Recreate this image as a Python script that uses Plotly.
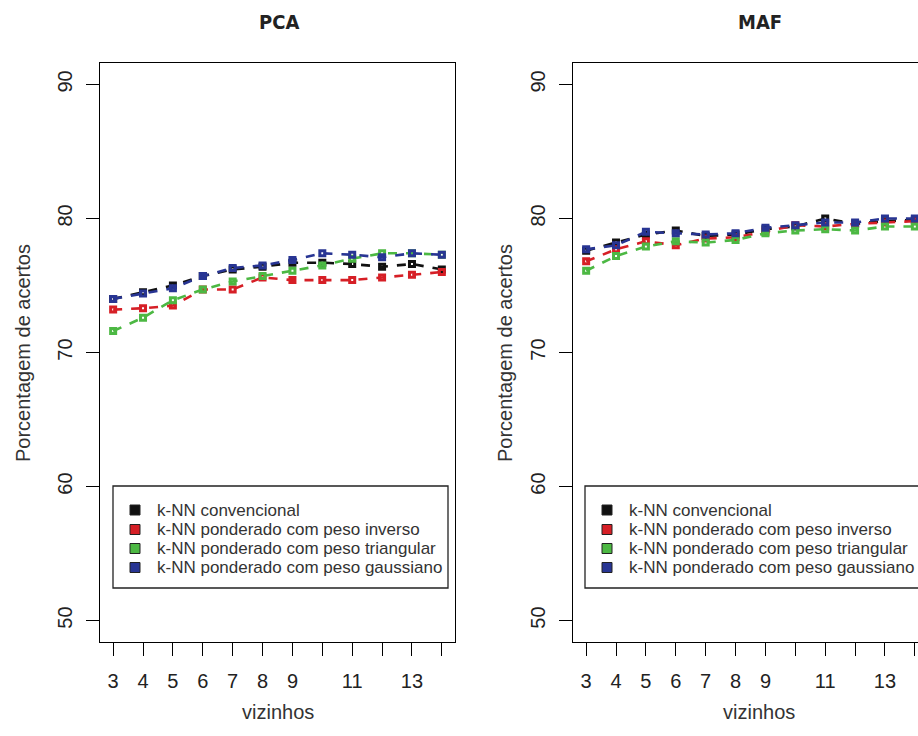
import plotly.graph_objects as go

k = list(range(3, 15))
xtick_vals = list(range(3, 15))
xtick_text = ["3", "4", "5", "6", "7", "8", "9", "", "11", "", "13", ""]
ytick_vals = [50, 60, 70, 80, 90]

series_names = [
    "k-NN convencional",
    "k-NN ponderado com peso inverso",
    "k-NN ponderado com peso triangular",
    "k-NN ponderado com peso gaussiano",
]
series_colors = ["#111111", "#d61f26", "#4cb843", "#283593"]

pca_conv = [74.0, 74.5, 75.0, 75.7, 76.2, 76.4, 76.7, 76.7, 76.6, 76.4, 76.6, 76.2]
pca_inv = [73.2, 73.3, 73.5, 74.7, 74.7, 75.6, 75.4, 75.4, 75.4, 75.6, 75.8, 76.0]
pca_tri = [71.6, 72.6, 73.9, 74.7, 75.3, 75.7, 76.1, 76.5, 77.0, 77.4, 77.4, 77.3]
pca_gau = [74.0, 74.4, 74.8, 75.7, 76.3, 76.5, 76.9, 77.4, 77.3, 77.1, 77.4, 77.3]

maf_conv = [77.6, 78.2, 78.8, 79.1, 78.7, 78.8, 79.2, 79.4, 80.0, 79.6, 79.8, 79.9]
maf_inv = [76.8, 77.7, 78.3, 78.0, 78.5, 78.6, 79.0, 79.5, 79.4, 79.6, 79.7, 79.8]
maf_tri = [76.1, 77.2, 77.9, 78.3, 78.2, 78.4, 78.9, 79.1, 79.2, 79.1, 79.4, 79.4]
maf_gau = [77.7, 78.0, 79.0, 78.9, 78.8, 78.9, 79.3, 79.5, 79.7, 79.7, 80.0, 80.0]

pca = [pca_conv, pca_inv, pca_tri, pca_gau]
maf = [maf_conv, maf_inv, maf_tri, maf_gau]

W, H = 918, 736
FONT = "Liberation Sans, Arial, sans-serif"

fig = go.Figure()

for data, xa, ya in [(pca, "x", "y"), (maf, "x2", "y2")]:
    for name, vals, col in zip(series_names, data, series_colors):
        fig.add_trace(go.Scatter(
            x=k, y=vals, xaxis=xa, yaxis=ya, mode="lines+markers", name=name,
            line=dict(color=col, width=2.6, dash="dash"),
            marker=dict(symbol="square-open", size=5, color=col, line=dict(width=3, color=col)),
            showlegend=False,
        ))


def px_x(p):
    return p / W


def px_y(p):
    return 1 - p / H


axis_common = dict(
    showline=True, linecolor="black", linewidth=1.3,
    ticks="outside", ticklen=13, tickwidth=1.3, tickcolor="black",
    showgrid=False, zeroline=False,
    tickfont=dict(family=FONT, size=20, color="#222222"),
)

xdomL = [px_x(100), px_x(455)]
xdomR = [px_x(573), 1.0]
ydom = [px_y(642), px_y(63)]
unit = 355 / 11.88

fig.update_layout(
    width=W, height=H,
    margin=dict(l=0, r=0, t=0, b=0),
    paper_bgcolor="white", plot_bgcolor="white",
    showlegend=False,
    xaxis=dict(domain=xdomL, range=[2.56, 14.44], tickvals=xtick_vals, ticktext=xtick_text,
               mirror=True, anchor="y", ticklabelstandoff=8, **axis_common),
    yaxis=dict(domain=ydom, range=[48.4, 91.6], tickvals=ytick_vals, tickangle=-90,
               mirror=True, anchor="x", ticklabelstandoff=6, **axis_common),
    xaxis2=dict(domain=xdomR, range=[2.56, 2.56 + 345 / unit], tickvals=xtick_vals, ticktext=xtick_text,
                mirror=True, anchor="y2", ticklabelstandoff=8, **axis_common),
    yaxis2=dict(domain=ydom, range=[48.4, 91.6], tickvals=ytick_vals, tickangle=-90,
                mirror=False, anchor="x2", ticklabelstandoff=6, **axis_common),
)

# legend boxes (drawn as in the original R legend)
LEG_FONT = dict(family=FONT, size=17, color="#333333")
row_y = [510, 529.5, 548.5, 567.5]
for left in (113, 585):
    fig.add_shape(type="rect", xref="paper", yref="paper",
                  x0=px_x(left), x1=px_x(left + 335), y0=px_y(588), y1=px_y(486),
                  line=dict(color="#222222", width=1.3), fillcolor="white", layer="above")
    for name, col, ry in zip(series_names, series_colors, row_y):
        fig.add_shape(type="rect", xref="paper", yref="paper",
                      x0=px_x(left + 17), x1=px_x(left + 27), y0=px_y(ry + 5), y1=px_y(ry - 5),
                      line=dict(color="#222222", width=1), fillcolor=col, layer="above")
        fig.add_annotation(text=name, xref="paper", yref="paper", x=px_x(left + 42), y=px_y(ry),
                           xanchor="left", yanchor="middle", showarrow=False, font=LEG_FONT)

TITLE_FONT = dict(family="Liberation Sans Narrow, Arial Narrow, DejaVu Sans Condensed, sans-serif",
                  size=20, color="#222222")
LABEL_FONT = dict(family=FONT, size=20, color="#333333")

annots = [
    dict(text="<b>PCA</b>", x=px_x(279), y=px_y(22), font=TITLE_FONT),
    dict(text="<b>MAF</b>", x=px_x(760), y=px_y(22), font=TITLE_FONT),
    dict(text="vizinhos", x=px_x(278), y=px_y(712), font=LABEL_FONT),
    dict(text="vizinhos", x=px_x(759), y=px_y(712), font=LABEL_FONT),
    dict(text="Porcentagem de acertos", x=px_x(23), y=px_y(353), textangle=-90, font=LABEL_FONT),
    dict(text="Porcentagem de acertos", x=px_x(505), y=px_y(353), textangle=-90, font=LABEL_FONT),
]
for a in annots:
    fig.add_annotation(xref="paper", yref="paper", xanchor="center", yanchor="middle",
                       showarrow=False, **a)

fig.write_html("out.html")
